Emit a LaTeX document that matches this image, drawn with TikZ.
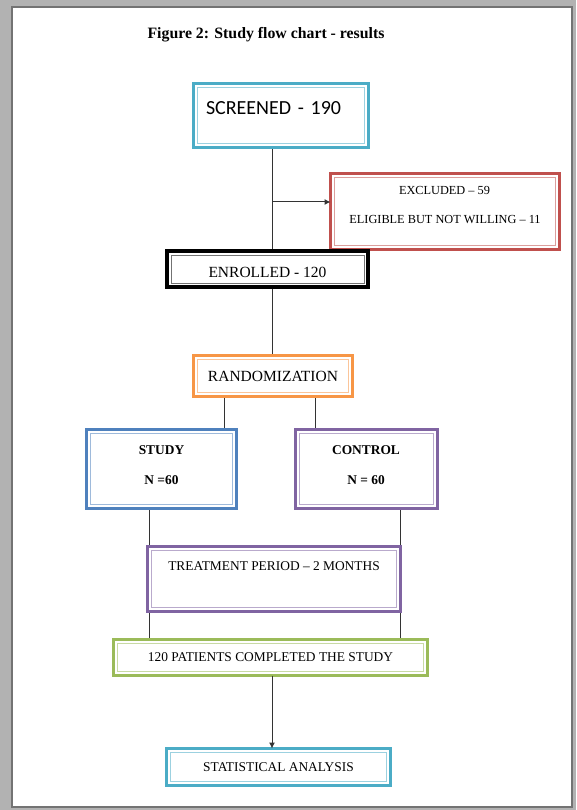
\documentclass[tikz,border=0pt]{standalone}
\usepackage{fontspec}
\setmainfont{Liberation Serif}
\newfontfamily\calibrifont{Carlito}
\usetikzlibrary{arrows.meta}
\usetikzlibrary{positioning}
\usetikzlibrary{backgrounds}

\definecolor{boxaqua}{HTML}{4BACC6}
\definecolor{boxbrick}{HTML}{C0504D}
\definecolor{boxorange}{HTML}{F79646}
\definecolor{boxblue}{HTML}{4F81BD}
\definecolor{boxpurple}{HTML}{8064A2}
\definecolor{boxgreen}{HTML}{9BBB59}

\tikzset{
  flowbox/.style={draw=#1, line width=3pt, fill=white, inner sep=0pt, outer sep=0pt,
    font=\fontsize{13.4}{16}\selectfont},
  boxtext/.style={anchor=base, inner sep=0pt, font=\fontsize{13.4}{16}\selectfont},
  link/.style={draw=black!80, line width=1pt},
  arrowlink/.style={link, -{Latex[length=6pt,width=6pt]}},
}

\begin{document}
\begin{tikzpicture}[x=1pt, y=-1pt]
    \useasboundingbox (0,0) rectangle (576,810);

    % title
    \node[anchor=base, inner sep=0pt, font=\bfseries\fontsize{15.8}{18}\selectfont] (title) at (266,39)
        {Figure 2: Study flow chart - results};

    % boxes
    \node[flowbox=boxaqua, minimum width=175pt, minimum height=64pt, text width=150pt, inner xsep=12.5pt,
          align=left, text height=31.5pt, text depth=32.5pt, font=\calibrifont\fontsize{20}{24}\selectfont]
        (screened) at (281,115.5) {SCREENED - 190};
    \node[flowbox=boxbrick, minimum width=229pt, minimum height=76pt] (excluded) at (445,211.5) {};
    \node[flowbox=black, line width=4pt, minimum width=201pt, minimum height=36pt,
          text height=26pt, text depth=10pt, font=\fontsize{15.5}{18}\selectfont]
        (enrolled) at (267.5,269) {ENROLLED - 120};
    \node[flowbox=boxorange, minimum width=159pt, minimum height=41pt, font=\fontsize{15.5}{18}\selectfont]
        (random) at (273,376) {RANDOMIZATION};
    \node[flowbox=boxblue, minimum width=150pt, minimum height=79pt] (study) at (161.5,469) {};
    \node[flowbox=boxpurple, minimum width=142pt, minimum height=79pt] (control) at (366.5,469) {};
    \node[flowbox=boxpurple, minimum width=253pt, minimum height=65pt, text height=23.5pt, text depth=41.5pt]
        (treatment) at (274,579) {TREATMENT PERIOD -- 2 MONTHS};
    \node[flowbox=boxgreen, minimum width=314pt, minimum height=36pt] (patients) at (270.5,657.5)
        {120 PATIENTS COMPLETED THE STUDY};
    \node[flowbox=boxaqua, minimum width=224pt, minimum height=37pt] (stats) at (278.5,767)
        {STATISTICAL ANALYSIS};

    % inner lines of the double borders
    \foreach \n/\c in {screened/boxaqua, excluded/boxbrick, enrolled/black, random/boxorange,
                       study/boxblue, control/boxpurple, treatment/boxpurple, patients/boxgreen, stats/boxaqua}
        \draw[\c!55, line width=0.8pt] ([xshift=4pt,yshift=-4pt]\n.north west)
            rectangle ([xshift=-4pt,yshift=4pt]\n.south east);

    % two-line texts
    \node[boxtext, font=\fontsize{12.3}{14}\selectfont] (excl1) at (444.5,195) {EXCLUDED -- 59};
    \node[boxtext, font=\fontsize{12.3}{14}\selectfont] (excl2) at (445,224) {ELIGIBLE BUT NOT WILLING -- 11};
    \node[boxtext, font=\bfseries\fontsize{13.4}{16}\selectfont] (study1) at (161.5,454) {STUDY};
    \node[boxtext, font=\bfseries\fontsize{13.4}{16}\selectfont] (study2) at (161.5,484) {N =60};
    \node[boxtext, font=\bfseries\fontsize{13.4}{16}\selectfont] (control1) at (366,454) {CONTROL};
    \node[boxtext, font=\bfseries\fontsize{13.4}{16}\selectfont] (control2) at (366,484) {N = 60};

    % rails for the connectors
    \coordinate (spine) at (272,0);
    \coordinate (branch) at (272,202);
    \coordinate (studyrail) at (224,0);
    \coordinate (controlrail) at (315,0);
    \coordinate (leftrail) at (149,0);
    \coordinate (rightrail) at (400,0);

    \begin{scope}[on background layer]
        % page and its shadow
        \fill[black!30] (0,0) rectangle (576,810);
        \fill[black!55] (11,6) rectangle (573,808);
        \fill[white] (13,8) rectangle (571,806);
        % connectors
        \draw[link] (screened.south -| spine) -- (enrolled.north -| spine);
        \draw[link] (enrolled.south -| spine) -- (random.north -| spine);
        \draw[link] (random.south -| studyrail) -- (study.north -| studyrail);
        \draw[link] (random.south -| controlrail) -- (control.north -| controlrail);
        \draw[link] (study.south -| leftrail) -- (patients.north -| leftrail);
        \draw[link] (control.south -| rightrail) -- (patients.north -| rightrail);
    \end{scope}
    \draw[arrowlink] (branch) -- (branch -| excluded.west);
    \draw[arrowlink] (patients.south -| spine) -- (stats.north -| spine);

\end{tikzpicture}
\end{document}
